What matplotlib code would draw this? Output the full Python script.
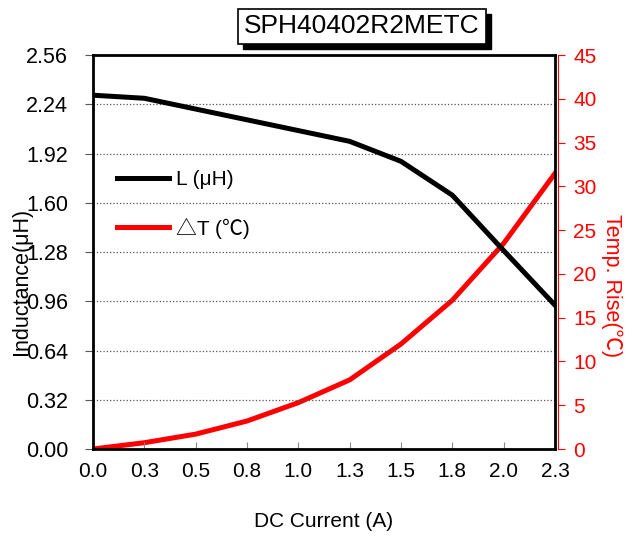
import matplotlib.pyplot as plt
from matplotlib.patches import Rectangle

plt.rcParams['font.family'] = ['Liberation Sans', 'Noto Sans CJK JP', 'DejaVu Sans']

current = [0.0, 0.25, 0.5, 0.75, 1.0, 1.25, 1.5, 1.75, 2.0, 2.25]
inductance = [2.30, 2.28, 2.21, 2.14, 2.07, 2.00, 1.87, 1.65, 1.29, 0.935]
temp_rise = [0.0, 0.72, 1.7, 3.2, 5.3, 7.9, 12.0, 17.0, 23.5, 31.5]

x_ticks = [0.0, 0.25, 0.5, 0.75, 1.0, 1.25, 1.5, 1.75, 2.0, 2.25]
x_labels = ['0.0', '0.3', '0.5', '0.8', '1.0', '1.3', '1.5', '1.8', '2.0', '2.3']
l_ticks = [0.0, 0.32, 0.64, 0.96, 1.28, 1.60, 1.92, 2.24, 2.56]
t_ticks = [0, 5, 10, 15, 20, 25, 30, 35, 40, 45]

fig = plt.figure(figsize=(6.35, 5.36), dpi=100)
ax = fig.add_axes([0.1465, 0.1623, 0.874 - 0.1465, 0.897 - 0.1623])
ax2 = ax.twinx()

l1, = ax.plot(current, inductance, color='black', lw=3.6, label='L (μH)')
l2, = ax2.plot(current, temp_rise, color='red', lw=3.6, label='△T (℃)')
ax.set_zorder(2)
ax.patch.set_visible(False)

ax.set_xlim(0, 2.25)
ax.set_ylim(0, 2.56)
ax2.set_ylim(0, 45)
ax.set_xticks(x_ticks)
ax.set_xticklabels(x_labels)
ax.set_yticks(l_ticks)
ax.set_yticklabels(['%.2f' % v for v in l_ticks])
ax2.set_yticks(t_ticks)

ax.tick_params(axis='x', direction='in', length=5, color='#888888', labelsize=15, pad=9)
ax.tick_params(axis='y', direction='out', length=6, color='#555555', labelsize=15.5, pad=12)
ax2.tick_params(axis='y', direction='out', length=5, color='red', labelcolor='red', labelsize=15, pad=6)

ax.grid(axis='y', linestyle=':', color='#555555', lw=0.9)
for s in ['left', 'bottom', 'top', 'right']:
    ax.spines[s].set_linewidth(2)
ax2.spines['right'].set_color('red')
ax2.spines['right'].set_position(('outward', 2))
for s in ['left', 'bottom', 'top']:
    ax2.spines[s].set_visible(False)

ax.set_xlabel('DC Current (A)', fontsize=15)
ax.xaxis.set_label_coords(0.5, -0.16)
ax.set_ylabel('Inductance(μH)', fontsize=15.5, va='center')
ax.yaxis.set_label_coords(-0.154, 0.426)
ax2.set_ylabel('Temp. Rise(℃)', fontsize=15.5, color='red', rotation=-90, va='center')
ax2.yaxis.set_label_coords(1.123, 0.416)

leg = ax.legend(handles=[l1, l2], loc='upper left', bbox_to_anchor=(0.012, 0.755),
                frameon=False, fontsize=15, handlelength=2.5, handletextpad=0.3,
                labelspacing=1.35)

# title box with drop shadow
title = fig.text(0.570, 0.9506, 'SPH40402R2METC', fontsize=19, color='black',
                 ha='center', va='center', zorder=5,
                 bbox=dict(boxstyle='square,pad=0.22', facecolor='white', edgecolor='black', lw=1.2))
fig.canvas.draw()
bb = title.get_bbox_patch().get_window_extent()
fig.patches.append(Rectangle((bb.x0 + 5, bb.y0 - 5), bb.width, bb.height, transform=None,
                             facecolor='black', edgecolor='black', zorder=4))

fig.savefig('out.png', dpi=100)
